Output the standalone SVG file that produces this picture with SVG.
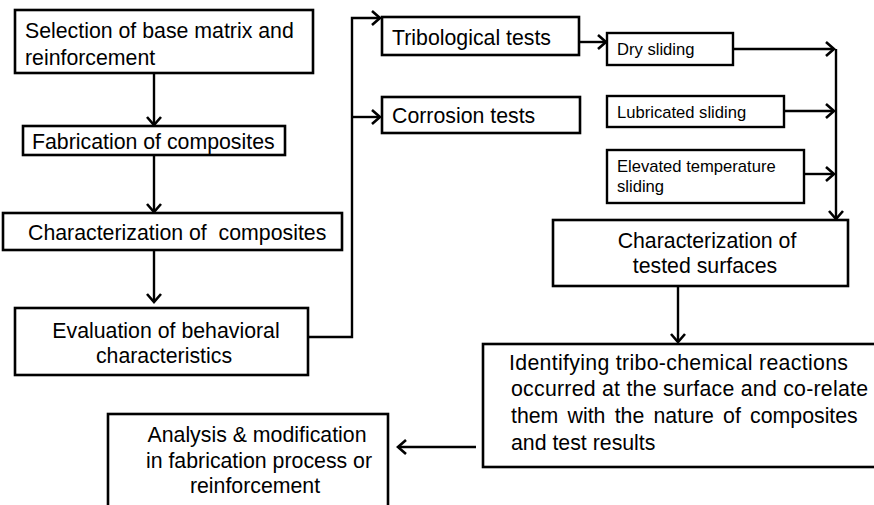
<svg xmlns="http://www.w3.org/2000/svg" width="874" height="505" viewBox="0 0 874 505">
<defs>
<style>
.box{fill:#fff;stroke:#000;stroke-width:2.6}
.sbox{fill:#fff;stroke:#000;stroke-width:2.4}
.t{font-family:"Liberation Sans",Arial,sans-serif;font-size:21.3px;fill:#000}
.s{font-family:"Liberation Sans",Arial,sans-serif;font-size:16.6px;fill:#000}
.c{text-anchor:middle}
.ln{fill:none;stroke:#000;stroke-width:2.4}
</style>
<marker id="ah" markerUnits="userSpaceOnUse" markerWidth="14" markerHeight="18" refX="11" refY="9" orient="auto">
<path d="M3,2 L11,9 L3,16" fill="none" stroke="#000" stroke-width="2.6"/>
</marker>
</defs>
<rect width="874" height="505" fill="#fff"/>
<g id="connectors">
<path class="ln" d="M154,73 V125" marker-end="url(#ah)"/>
<path class="ln" d="M154,155 V212" marker-end="url(#ah)"/>
<path class="ln" d="M154,250 V302" marker-end="url(#ah)"/>
<path class="ln" d="M308,337 H352 V18 H380" marker-end="url(#ah)"/>
<path class="ln" d="M352,117 H380" marker-end="url(#ah)"/>
<path class="ln" d="M579,42 H606" marker-end="url(#ah)"/>
<path class="ln" d="M733,49 H834" marker-end="url(#ah)"/>
<path class="ln" d="M784,111 H834" marker-end="url(#ah)"/>
<path class="ln" d="M804,174 H834" marker-end="url(#ah)"/>
<path class="ln" d="M836,49 V219" marker-end="url(#ah)"/>
<path class="ln" d="M678,286 V342" marker-end="url(#ah)"/>
<path class="ln" d="M476,447 H398" marker-end="url(#ah)"/>
</g>
<g id="n-selection">
<rect class="box" x="15" y="10" width="298" height="63"/>
<text class="t" x="25" y="38">Selection of base matrix and</text>
<text class="t" x="25" y="65">reinforcement</text>
</g>
<g id="n-fabrication">
<rect class="box" x="23" y="126" width="262" height="29"/>
<text class="t" x="32" y="149">Fabrication of composites</text>
</g>
<g id="n-characterization">
<rect class="box" x="3" y="213" width="339" height="37"/>
<text class="t" x="28" y="240" xml:space="preserve">Characterization of  composites</text>
</g>
<g id="n-evaluation">
<rect class="box" x="15" y="308" width="293" height="67"/>
<text class="t c" x="166" y="338">Evaluation of behavioral</text>
<text class="t c" x="164" y="363">characteristics</text>
</g>
<g id="n-tribological">
<rect class="box" x="382" y="17" width="197" height="38"/>
<text class="t" x="392" y="45">Tribological tests</text>
</g>
<g id="n-corrosion">
<rect class="box" x="382" y="97" width="198" height="36"/>
<text class="t" x="392" y="123">Corrosion tests</text>
</g>
<g id="n-dry">
<rect class="sbox" x="607" y="33" width="126" height="32"/>
<text class="s" x="617" y="55">Dry sliding</text>
</g>
<g id="n-lubricated">
<rect class="sbox" x="607" y="96" width="177" height="31"/>
<text class="s" x="617" y="118">Lubricated sliding</text>
</g>
<g id="n-elevated">
<rect class="sbox" x="607" y="150" width="197" height="53"/>
<text class="s" x="617" y="172">Elevated temperature</text>
<text class="s" x="617" y="192">sliding</text>
</g>
<g id="n-tested">
<rect class="box" x="553" y="220" width="295" height="66"/>
<text class="t c" x="707" y="248">Characterization of</text>
<text class="t c" x="705" y="273">tested surfaces</text>
</g>
<g id="n-identifying">
<rect class="box" x="483" y="344" width="400" height="123"/>
<text class="t" x="509" y="370" textLength="339">Identifying tribo-chemical reactions</text>
<text class="t" x="511" y="396" textLength="357" lengthAdjust="spacing">occurred at the surface and co-relate</text>
<text class="t" x="511" y="423" word-spacing="3.3">them with the nature of composites</text>
<text class="t" x="511" y="450">and test results</text>
</g>
<g id="n-analysis">
<rect class="box" x="108" y="414" width="280" height="100"/>
<text class="t c" x="257" y="442">Analysis &amp; modification</text>
<text class="t c" x="259" y="468">in fabrication process or</text>
<text class="t c" x="255" y="493">reinforcement</text>
</g>
</svg>
